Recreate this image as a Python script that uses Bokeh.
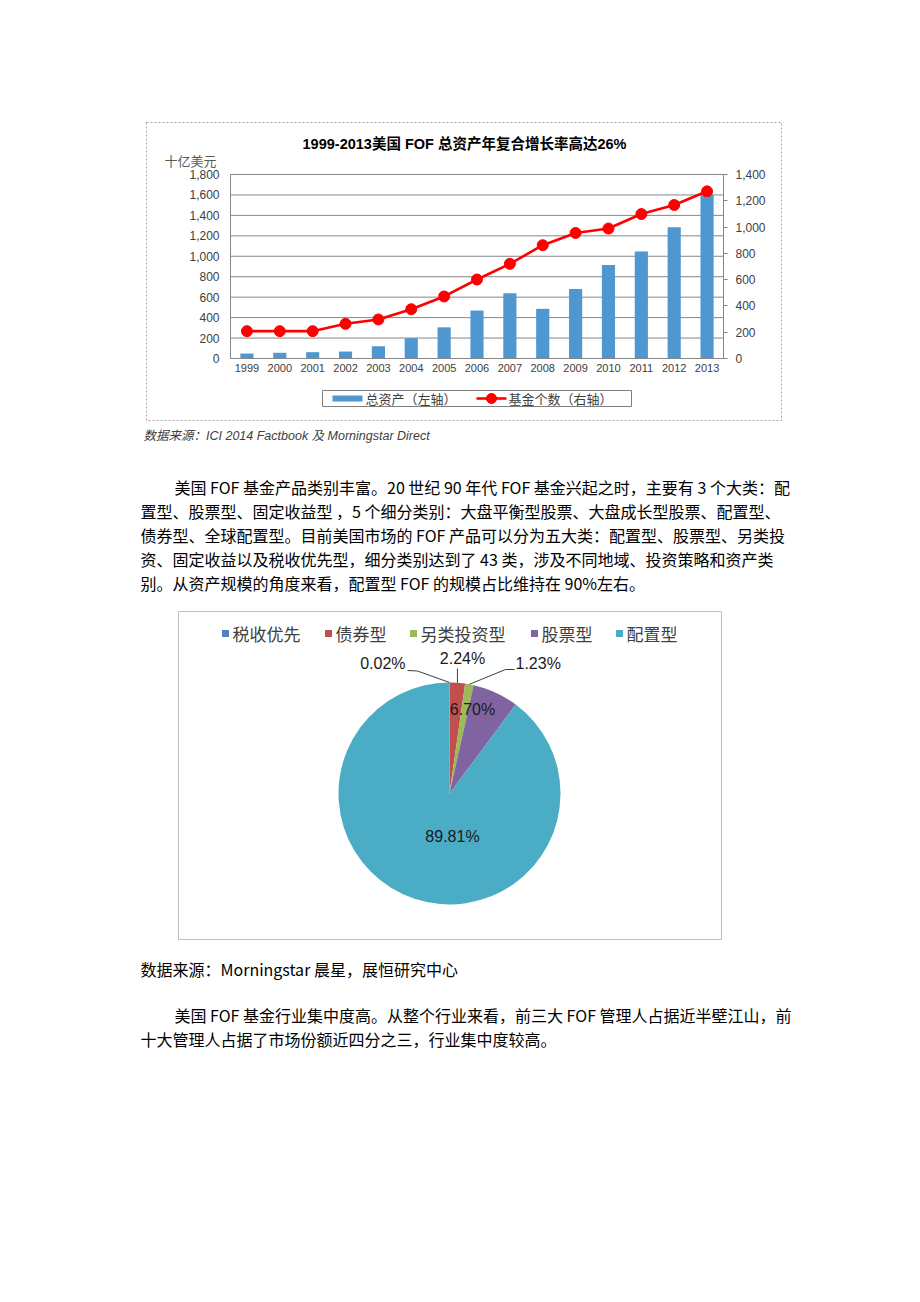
import math
from bokeh.plotting import figure
from bokeh.models import (Range1d, LinearAxis, FixedTicker, NumeralTickFormatter)
from bokeh.embed import file_html
from bokeh.resources import INLINE
from bokeh.core.properties import value

# ---------------- data ----------------
years = ["1999", "2000", "2001", "2002", "2003", "2004", "2005", "2006",
         "2007", "2008", "2009", "2010", "2011", "2012", "2013"]
total_assets = [48, 56, 62, 68, 120, 199, 305, 469, 639, 486, 681, 914, 1046, 1284, 1605]
fund_counts = [208, 208, 208, 264, 297, 375, 472, 601, 720, 862, 955, 989, 1099, 1168, 1272]
left_ticks = [0, 200, 400, 600, 800, 1000, 1200, 1400, 1600, 1800]
right_ticks = [0, 200, 400, 600, 800, 1000, 1200, 1400]
chart1_title = "1999-2013美国 FOF 总资产年复合增长率高达26%"
chart1_unit = "十亿美元"
chart1_legend = ["总资产（左轴）", "基金个数（右轴）"]
chart1_source = "数据来源：ICI 2014 Factbook  及  Morningstar Direct"

pie_categories = ["税收优先", "债券型", "另类投资型", "股票型", "配置型"]
pie_shares = [0.02, 2.24, 1.23, 6.70, 89.81]
pie_labels = ["0.02%", "2.24%", "1.23%", "6.70%", "89.81%"]
pie_colors = ["#4F81BD", "#C0504D", "#9BBB59", "#8064A2", "#4BACC6"]

para1 = [
    "美国 FOF 基金产品类别丰富。20 世纪 90 年代 FOF 基金兴起之时，主要有 3 个大类：配",
    "置型、股票型、固定收益型 ，5 个细分类别：大盘平衡型股票、大盘成长型股票、配置型、",
    "债券型、全球配置型。目前美国市场的 FOF 产品可以分为五大类：配置型、股票型、另类投",
    "资、固定收益以及税收优先型，细分类别达到了 43 类，涉及不同地域、投资策略和资产类",
    "别。从资产规模的角度来看，配置型 FOF 的规模占比维持在 90%左右。",
]
source2 = "数据来源：Morningstar 晨星，展恒研究中心"
para2 = [
    "美国 FOF 基金行业集中度高。从整个行业来看，前三大 FOF 管理人占据近半壁江山，前",
    "十大管理人占据了市场份额近四分之三，行业集中度较高。",
]

# ---------------- styles ----------------
LATIN = "Liberation Sans, Noto Sans CJK SC"
CJK = "Noto Sans CJK SC"
BAR = "#4F97D1"
RED = "#FF0000"
AXIS = "#868686"
TICK_TXT = "#404040"

# ---------------- page figure ----------------
W, H = 920, 1302
PL, PR, PT, PB = 60, 860, 60, 1242          # frame bounds in page pixels
p = figure(width=W, height=H,
           x_range=Range1d(PL, PR), y_range=Range1d(PB, PT),
           x_axis_type=None, y_axis_type=None,
           min_border_left=PL, min_border_right=W - PR,
           min_border_top=PT, min_border_bottom=H - PB,
           outline_line_color=None,
           background_fill_color="white", border_fill_color="white",
           output_backend="svg", toolbar_location=None)
p.grid.visible = False

# ---------------- chart 1: bar + line with own scales ----------------
CL, CR, CT, CB = 230, 723, 174, 358          # plot area of chart 1 (page px)


def span(v_lo, v_hi, p_lo, p_hi, q0, q1):
    k = (v_hi - v_lo) / (p_hi - p_lo)
    return Range1d(v_lo + (q0 - p_lo) * k, v_lo + (q1 - p_lo) * k)


year_num = [int(y) for y in years]
p.extra_x_ranges = {"yr": span(year_num[0] - 0.5, year_num[-1] + 0.5, CL, CR, PL, PR)}
p.extra_y_ranges = {
    "amt": span(left_ticks[0], left_ticks[-1], CB, CT, PB, PT),
    "cnt": span(right_ticks[0], right_ticks[-1], CB, CT, PB, PT),
}

# horizontal gridlines
p.segment(x0=CL, x1=CR, y0=left_ticks, y1=left_ticks, y_range_name="amt",
          line_color=AXIS, line_width=1)

p.vbar(x=year_num, top=total_assets, width=0.4, x_range_name="yr",
       y_range_name="amt", fill_color=BAR, line_color=None)
p.line(x=year_num, y=fund_counts, x_range_name="yr", y_range_name="cnt",
       line_color=RED, line_width=2.6)
p.scatter(x=year_num, y=fund_counts, x_range_name="yr", y_range_name="cnt",
          size=11, fill_color=RED, line_color=RED)


def style_axis(ax, size="12px"):
    ax.axis_line_color = AXIS
    ax.minor_tick_line_color = None
    ax.major_label_text_font = LATIN
    ax.major_label_text_font_size = size
    ax.major_label_text_color = TICK_TXT


ya = LinearAxis(y_range_name="amt", fixed_location=CL,
                bounds=(left_ticks[0], left_ticks[-1]),
                ticker=FixedTicker(ticks=left_ticks),
                formatter=NumeralTickFormatter(format="0,0"))
style_axis(ya)
ya.major_tick_out = 0
ya.major_tick_in = 0
ya.major_label_standoff = 11
p.add_layout(ya, "left")

ra = LinearAxis(y_range_name="cnt", fixed_location=CR,
                bounds=(right_ticks[0], right_ticks[-1]),
                ticker=FixedTicker(ticks=right_ticks),
                formatter=NumeralTickFormatter(format="0,0"))
style_axis(ra)
ra.major_tick_line_color = AXIS
ra.major_tick_out = 4
ra.major_tick_in = 0
ra.major_label_standoff = 8
p.add_layout(ra, "right")

xa = LinearAxis(x_range_name="yr", fixed_location=CB,
                bounds=(year_num[0] - 0.5, year_num[-1] + 0.5),
                ticker=FixedTicker(ticks=year_num),
                formatter=NumeralTickFormatter(format="0"))
style_axis(xa, "11px")
xa.major_tick_line_color = None
xa.major_tick_out = 0
xa.major_tick_in = 0
xa.major_label_standoff = 5
p.add_layout(xa, "below")

# chart 1 frame, title, unit, legend, source
p.quad(left=[146], right=[781], top=[122], bottom=[420], fill_color=None,
       line_color="#A6A6A6", line_width=1, line_dash="2 2")
p.text(x=[464], y=[143], text=[chart1_title], text_font=value(LATIN),
       text_font_style="bold", text_font_size="14.5px", text_color="#000000",
       text_align="center", text_baseline="middle")
p.text(x=[190], y=[160], text=[chart1_unit], text_font=value(CJK),
       text_font_size="13px", text_color="#595959",
       text_align="center", text_baseline="middle")

p.quad(left=[322], right=[631], top=[390], bottom=[406], fill_color=None,
       line_color="#7F7F7F", line_width=1)
p.quad(left=[332], right=[362], top=[395], bottom=[401], fill_color=BAR,
       line_color=None)
p.segment(x0=[476], x1=[506], y0=[398], y1=[398], line_color=RED, line_width=2.6)
p.scatter(x=[491], y=[398], size=10, fill_color=RED, line_color=RED)
p.text(x=[365, 508], y=[398, 398], text=chart1_legend, text_font=value(CJK),
       text_font_size="13px", text_color=TICK_TXT,
       text_align="left", text_baseline="middle")

p.text(x=[143], y=[435], text=[chart1_source], text_font=value(LATIN),
       text_font_style="italic", text_font_size="12.5px", text_color="#404040",
       text_align="left", text_baseline="middle")

# ---------------- body text ----------------
BODY_SIZE = "16px"
LINE_H = 24
indent_x, left_x = 174, 140

p.text(x=[indent_x] + [left_x] * (len(para1) - 1),
       y=[486 + i * LINE_H for i in range(len(para1))],
       text=para1, text_font=value(CJK), text_font_size=BODY_SIZE,
       text_color="#000000", text_baseline="middle", text_align="left")
p.text(x=[left_x], y=[968], text=[source2], text_font=value(CJK),
       text_font_size=BODY_SIZE, text_color="#000000",
       text_baseline="middle", text_align="left")
p.text(x=[indent_x] + [left_x] * (len(para2) - 1),
       y=[1014 + i * LINE_H for i in range(len(para2))],
       text=para2, text_font=value(CJK), text_font_size=BODY_SIZE,
       text_color="#000000", text_baseline="middle", text_align="left")

# ---------------- chart 2: pie ----------------
p.quad(left=[178], right=[721], top=[611], bottom=[939],
       fill_color=None, line_color="#BFBFBF", line_width=1)

CX, CY, R = 449, 793, 111
total = sum(pie_shares)
starts, ends, mids = [], [], []
cum = 0.0
for s in pie_shares:
    a0 = math.pi / 2 - 2 * math.pi * cum / total
    cum += s
    a1 = math.pi / 2 - 2 * math.pi * cum / total
    starts.append(a0)
    ends.append(a1)
    mids.append((a0 + a1) / 2)
p.wedge(x=CX, y=CY, radius=R, start_angle=starts, end_angle=ends,
        direction="clock", fill_color=pie_colors, line_color=None)


def anchor(i):
    return CX + R * math.cos(mids[i]), CY - R * math.sin(mids[i])


a0x, a0y = anchor(0)
a1x, a1y = anchor(1)
a2x, a2y = anchor(2)
p.multi_line(xs=[[407, 417, a0x], [a1x, a1x], [514, 505, a2x]],
             ys=[[670, 670.5, a0y], [668, a1y], [669, 669, a2y]],
             line_color="#404040", line_width=1)

p.text(x=[405, 462, 515, 472, 452], y=[663, 658, 663, 709, 836],
       text=pie_labels, text_font=value("Liberation Sans"),
       text_font_size="16px", text_color="#1A1A1A", text_baseline="middle",
       text_align=["right", "center", "left", "center", "center"])

sq_x = [225, 328, 413, 534, 619]
p.rect(x=sq_x, y=[633] * 5, width=7, height=7, fill_color=pie_colors,
       line_color=None)
p.text(x=[v + 7 for v in sq_x], y=[633] * 5, text=pie_categories,
       text_font=value(CJK), text_font_size="17px", text_color="#404040",
       text_baseline="middle", text_align="left")

open("out.html", "w").write(file_html(p, INLINE))
